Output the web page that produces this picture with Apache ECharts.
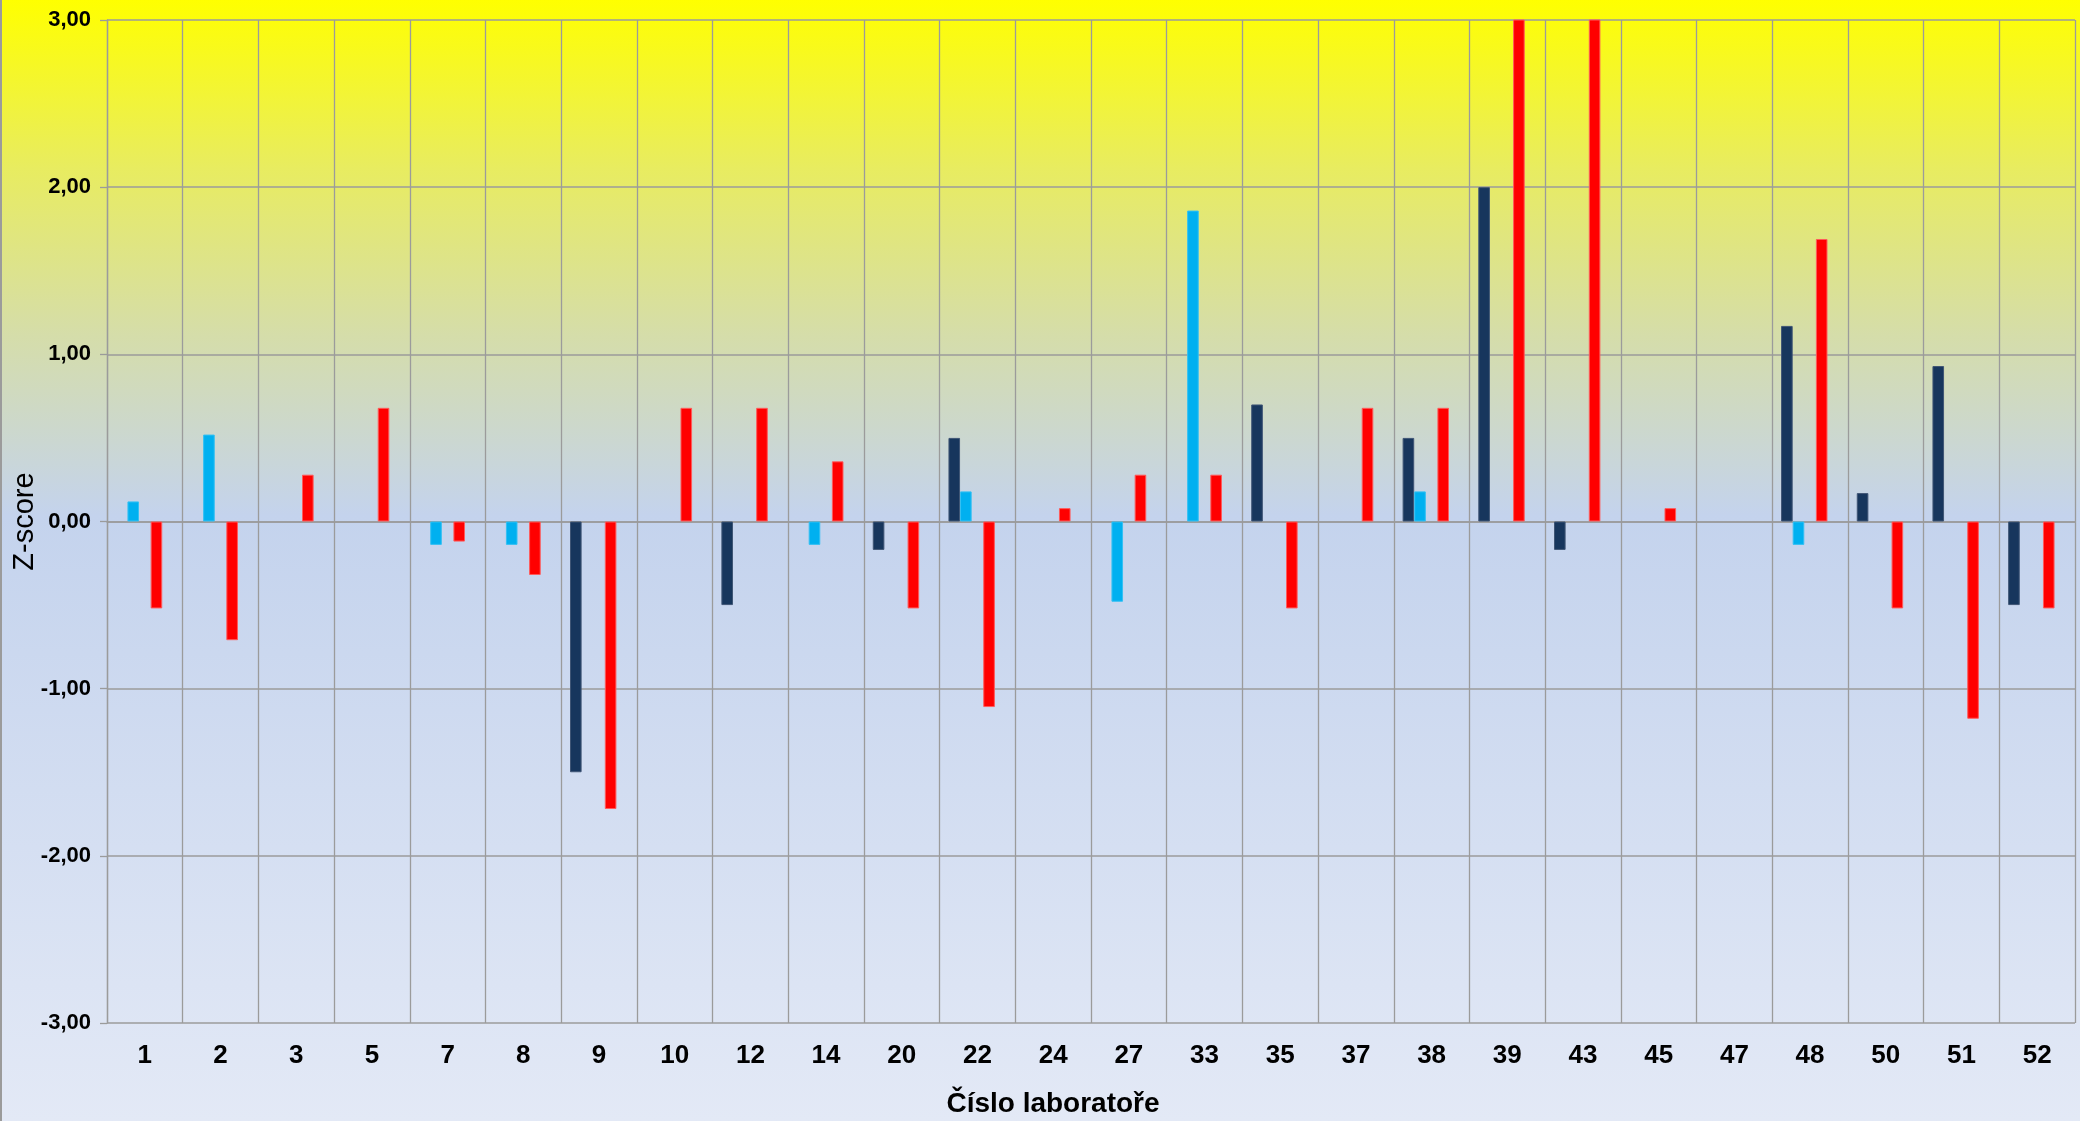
<!DOCTYPE html>
<html>
<head>
<meta charset="utf-8">
<script src="https://cdn.jsdelivr.net/npm/echarts@6/dist/echarts.min.js"></script>
<style>
html,body{margin:0;padding:0;}
#chart{width:2080px;height:1121px;}
</style>
</head>
<body>
<div id="chart"></div>
<script>
// Lab numbers (x categories)
var categories = ['1','2','3','5','7','8','9','10','12','14','20','22','24','27','33','35','37','38','39','43','45','47','48','50','51','52'];
// Series 1 (dark navy)
var seriesNavy = [null,null,null,null,null,null,-1.50,null,-0.50,null,-0.17,0.50,null,null,null,0.70,null,0.50,2.00,-0.17,null,null,1.17,0.17,0.93,-0.50];
// Series 2 (light blue)
var seriesBlue = [0.12,0.52,null,null,-0.14,-0.14,null,null,null,-0.14,null,0.18,null,-0.48,1.86,null,null,0.18,null,null,null,null,-0.14,null,null,null];
// Series 4 (red); 39 and 43 run off the top of the axis
var seriesRed = [-0.52,-0.71,0.28,0.68,-0.12,-0.32,-1.72,0.68,0.68,0.36,-0.52,-1.11,0.08,0.28,0.28,-0.52,0.68,0.68,3.40,3.40,0.08,null,1.69,-0.52,-1.18,-0.52];
// y tick settings
var yMin = -3, yMax = 3, yStep = 1;

var chart = echarts.init(document.getElementById('chart'), null, {renderer:'canvas'});
var gridColor = '#9b9b9b';
var barW = 11.6;
function bar(data, color, border){
  return {type:'bar', data:data, barWidth:barW, barGap:'0%', clip:true,
    itemStyle:{color:color, borderColor:border, borderWidth:data.length?1:0}};
}
var option = {
  animation:false,
  backgroundColor: new echarts.graphic.LinearGradient(0,0,0,1,[
    {offset:0, color:'#ffff00'},
    {offset:0.15, color:'#e8ec60'},
    {offset:0.30, color:'#d5ddaa'},
    {offset:0.46, color:'#c4d3ed'},
    {offset:1, color:'#e3e9f6'}
  ]),
  grid:{left:107, right:5, top:20, bottom:98, containLabel:false, outerBoundsMode:'none'},
  xAxis:{
    type:'category', data:categories,
    axisLine:{show:true, lineStyle:{color:gridColor, width:1.5}},
    axisTick:{show:false},
    axisLabel:{color:'#000', fontFamily:'Liberation Sans, Arial, sans-serif', fontWeight:'bold', fontSize:26, margin:20},
    splitLine:{show:true, lineStyle:{color:gridColor, width:1.3}},
    name:'Číslo laboratoře', nameLocation:'middle', nameGap:67, nameMoveOverlap:false,
    nameTextStyle:{color:'#000', fontFamily:'Liberation Sans, Arial, sans-serif', fontWeight:'bold', fontSize:28, padding:[0,76,0,0]}
  },
  yAxis:{
    type:'value', min:yMin, max:yMax, interval:yStep,
    axisLine:{show:true, lineStyle:{color:gridColor, width:1.3}},
    axisTick:{show:true, length:7, lineStyle:{color:gridColor, width:1.3}},
    axisLabel:{color:'#000', fontFamily:'Liberation Sans, Arial, sans-serif', fontWeight:'bold', fontSize:22, margin:16,
      formatter:function(v){return v.toFixed(2).replace('.',',');}},
    splitLine:{show:true, lineStyle:{color:gridColor, width:1.5}},
    name:'Z-score', nameLocation:'middle', nameGap:68, nameRotate:90, nameMoveOverlap:false,
    nameTextStyle:{color:'#000', fontFamily:'Liberation Sans, Arial, sans-serif', fontSize:29}
  },
  series:[
    bar(seriesNavy, '#17365d', '#3f5575'),
    bar(seriesBlue, '#00b0f0', '#33c0f3'),
    bar([], '#ffffff', '#ffffff'),
    bar(seriesRed, '#ff0000', '#ff5a5a'),
    bar([], '#ffffff', '#ffffff')
  ],
  graphic:[{type:'line', shape:{x1:1,y1:0,x2:1,y2:1121}, style:{stroke:'#9b9b9b', lineWidth:2}}]
};
chart.setOption(option);
</script>
</body>
</html>
